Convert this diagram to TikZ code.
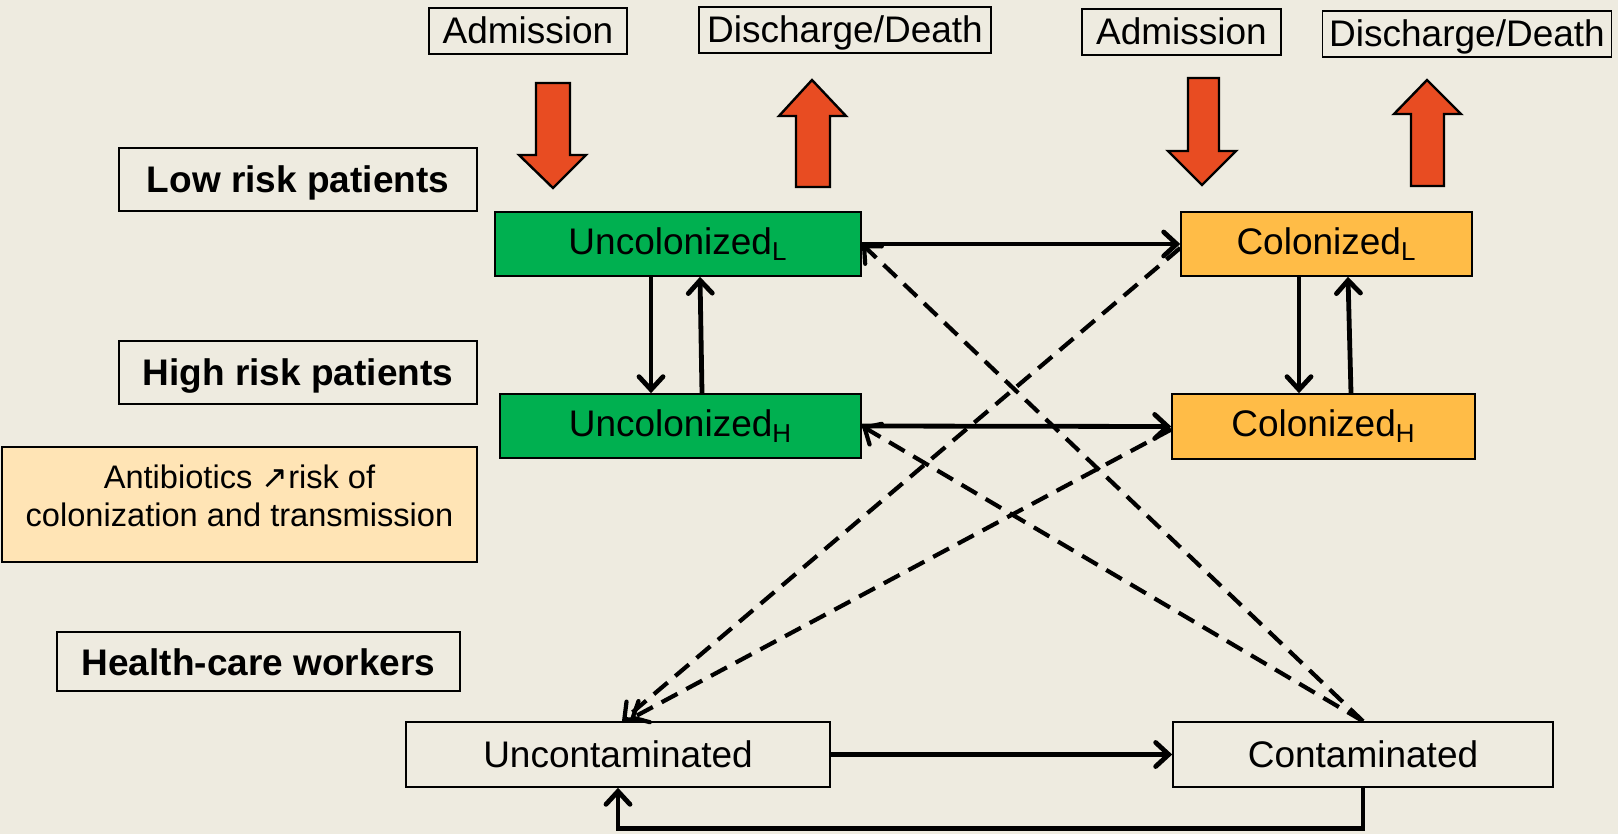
\documentclass[tikz,border=0pt]{standalone}
\usepackage{fontspec}
\setmainfont{Liberation Sans}
\newfontfamily\djv{DejaVu Sans}
\usetikzlibrary{arrows.meta,calc}
\definecolor{bgc}{HTML}{EEEBE0}
\definecolor{grn}{HTML}{00B050}
\definecolor{org}{HTML}{FFBC47}
\definecolor{pch}{HTML}{FFE4B5}
\definecolor{redarr}{HTML}{E84C22}
\begin{document}
\begin{tikzpicture}[x=0.5pt,y=-0.5pt,
  box/.style={draw=black,line width=0.8pt,inner sep=0pt,align=center,font=\fontsize{18.5}{22}\selectfont},
  tbox/.style={box,text height=13.5pt,text depth=1pt},
  lbl/.style={box,font=\fontsize{18.5}{22}\selectfont\bfseries,text height=15.5pt,text depth=2pt},
  gbox/.style={box,fill=grn},
  obox/.style={box,fill=org},
  arr/.style={line width=2.4pt,-{Straight Barb[length=6.5pt,width=12pt,line width=2.4pt,line cap=round]}},
  darr/.style={line width=2.1pt,dash pattern=on 9pt off 5pt,-{Straight Barb[length=6.5pt,width=12pt,line width=2.1pt,line cap=round]}},
  blk/.style={fill=redarr,draw=black,line width=1.2pt,line join=miter}
]
\fill[bgc] (0,0) rectangle (1618,834);
\useasboundingbox (0,0) rectangle (1618,834);

% top text boxes
\node[tbox,minimum width=99pt,minimum height=23pt] (adm1) at (528,31) {Admission};
\node[tbox,minimum width=146pt,minimum height=23pt] (dis1) at (845,30) {Discharge/Death};
\node[tbox,minimum width=99.5pt,minimum height=23pt] (adm2) at (1181.5,32) {Admission};
\node[tbox,minimum width=144.5pt,minimum height=23pt] (dis2) at (1467,34) {Discharge/Death};

% left labels
\node[lbl,minimum width=179pt,minimum height=31.5pt] (low) at (298,179.5) {Low risk patients};
\node[lbl,minimum width=179pt,minimum height=31.5pt] (high) at (298,372.5) {High risk patients};
\node[box,fill=pch,minimum width=237.5pt,minimum height=57.5pt] (abx) at (239.5,504.5) {};
\node[align=center,inner sep=0pt,font=\fontsize{16.3}{19}\selectfont] (abxt) at (239.5,496) {Antibiotics {\djv\fontsize{16}{19}\selectfont ↗}risk of\\colonization and transmission};
\node[lbl,minimum width=201.5pt,minimum height=29.5pt] (hcw) at (258.5,661.5) {Health-care workers};

% state boxes
\node[gbox,minimum width=183pt,minimum height=32pt] (ucL) at (678,244) {Uncolonized\textsubscript{L}};
\node[gbox,minimum width=180.5pt,minimum height=32pt] (ucH) at (680.5,426) {Uncolonized\textsubscript{H}};
\node[obox,minimum width=145.5pt,minimum height=32pt] (cL) at (1326.5,244) {Colonized\textsubscript{L}};
\node[obox,minimum width=151.5pt,minimum height=32.5pt] (cH) at (1323.5,426.5) {Colonized\textsubscript{H}};
\node[box,minimum width=212pt,minimum height=32.5pt] (ucn) at (618,754.5) {Uncontaminated};
\node[box,minimum width=190pt,minimum height=32.5pt] (con) at (1363,754.5) {Contaminated};

% block arrows
\draw[blk] (536,83) -- (570,83) -- (570,155) -- (586,155) -- (553,188) -- (519,155) -- (536,155) -- cycle;
\draw[blk] (812,80) -- (846,116) -- (830,116) -- (830,187) -- (796,187) -- (796,116) -- (779,116) -- cycle;
\draw[blk] (1188,78) -- (1219,78) -- (1219,151) -- (1236,151) -- (1202,185) -- (1168,151) -- (1188,151) -- cycle;
\draw[blk] (1427,80) -- (1461,114) -- (1444,114) -- (1444,186) -- (1411,186) -- (1411,114) -- (1394,114) -- cycle;

% solid transitions
\draw[arr] (ucL.east) -- (cL.west);
\draw[arr] (ucH.east) -- (cH.west);
\draw[arr] (ucn.east) -- (con.west);
\draw[arr] ($(ucL.south)+(-27,0)$) -- ($(ucH.north)+(-29.5,0)$);
\draw[arr] ($(ucH.north)+(21.5,0)$) -- ($(ucL.south)+(22,0)$);
\draw[arr] ($(cL.south)+(-27.5,0)$) -- ($(cH.north)+(-24.5,0)$);
\draw[arr] ($(cH.north)+(27.5,0)$) -- ($(cL.south)+(21.5,0)$);
\draw[arr] (con.south) -- ++(0,41) -| (ucn.south);

% dashed transmissions
\draw[darr] (con.north) -- (ucL.east);
\draw[darr] (con.north) -- (ucH.east);
\draw[darr] ($(cL.west)+(0,4)$) -- ($(ucn.north)+(4,0)$);
\draw[darr] ($(cH.west)+(0,3)$) -- ($(ucn.north)+(12,-2)$);
\end{tikzpicture}
\end{document}
